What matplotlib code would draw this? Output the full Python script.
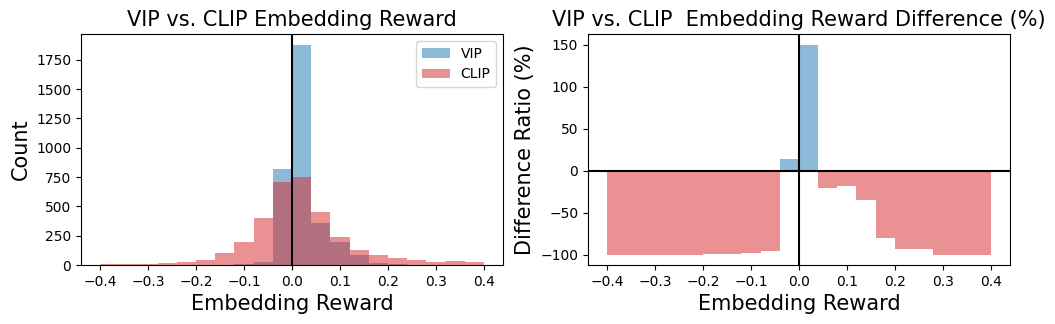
import numpy as np
import matplotlib
matplotlib.use('Agg')
import matplotlib.pyplot as plt

# bin edges for both panels, width 0.04 from -0.4 to 0.4
bin_edges = np.round(np.linspace(-0.4, 0.4, 21), 2)

# per-bin counts
vip_counts = [0, 0, 0, 0, 0, 1, 1, 8, 23, 818,
              1875, 358, 198, 85, 14, 5, 2, 0, 0, 0]
clip_counts = [8, 8, 8, 14, 23, 40, 99, 193, 397, 711,
               750, 453, 241, 125, 82, 57, 40, 23, 31, 23]

# difference ratio per bin (%)
diff_pct = [-100, -100, -100, -100, -100, -99, -99, -98, -95.5, 14.3,
            150, -21, -18, -35.5, -80, -93, -93, -100, -100, -100]

bin_left = bin_edges[:-1]
bin_w = 0.04

fig = plt.figure(figsize=(10.55, 3.24), dpi=100)
ax1 = fig.add_axes([0.0768, 0.182, 0.4, 0.713])
ax2 = fig.add_axes([0.5573, 0.182, 0.4, 0.713])

# left: overlaid histograms
ax1.hist(bin_left, bins=bin_edges, weights=vip_counts, alpha=0.5,
         color='tab:blue', label='VIP')
ax1.hist(bin_left, bins=bin_edges, weights=clip_counts, alpha=0.5,
         color='tab:red', label='CLIP')
ax1.axvline(0, color='black', lw=1.5)
ax1.set_title('VIP vs. CLIP Embedding Reward', fontsize=15)
ax1.set_xlabel('Embedding Reward', fontsize=15)
ax1.set_ylabel('Count', fontsize=15)
ax1.set_xticks(np.round(np.arange(-0.4, 0.41, 0.1), 1))
ax1.legend(loc='upper right')

# right: difference bars, blue above zero, red below
diff = np.array(diff_pct)
colors = ['tab:blue' if d > 0 else 'tab:red' for d in diff]
ax2.bar(bin_left, diff, width=bin_w, align='edge', color=colors, alpha=0.5)
ax2.axvline(0, color='black', lw=1.5)
ax2.axhline(0, color='black', lw=1.5)
ax2.set_title('VIP vs. CLIP  Embedding Reward Difference (%)', fontsize=15)
ax2.set_xlabel('Embedding Reward', fontsize=15)
ax2.set_ylabel('Difference Ratio (%)', fontsize=15)
ax2.set_xticks(np.round(np.arange(-0.4, 0.41, 0.1), 1))

plt.savefig('out.png', dpi=100)
